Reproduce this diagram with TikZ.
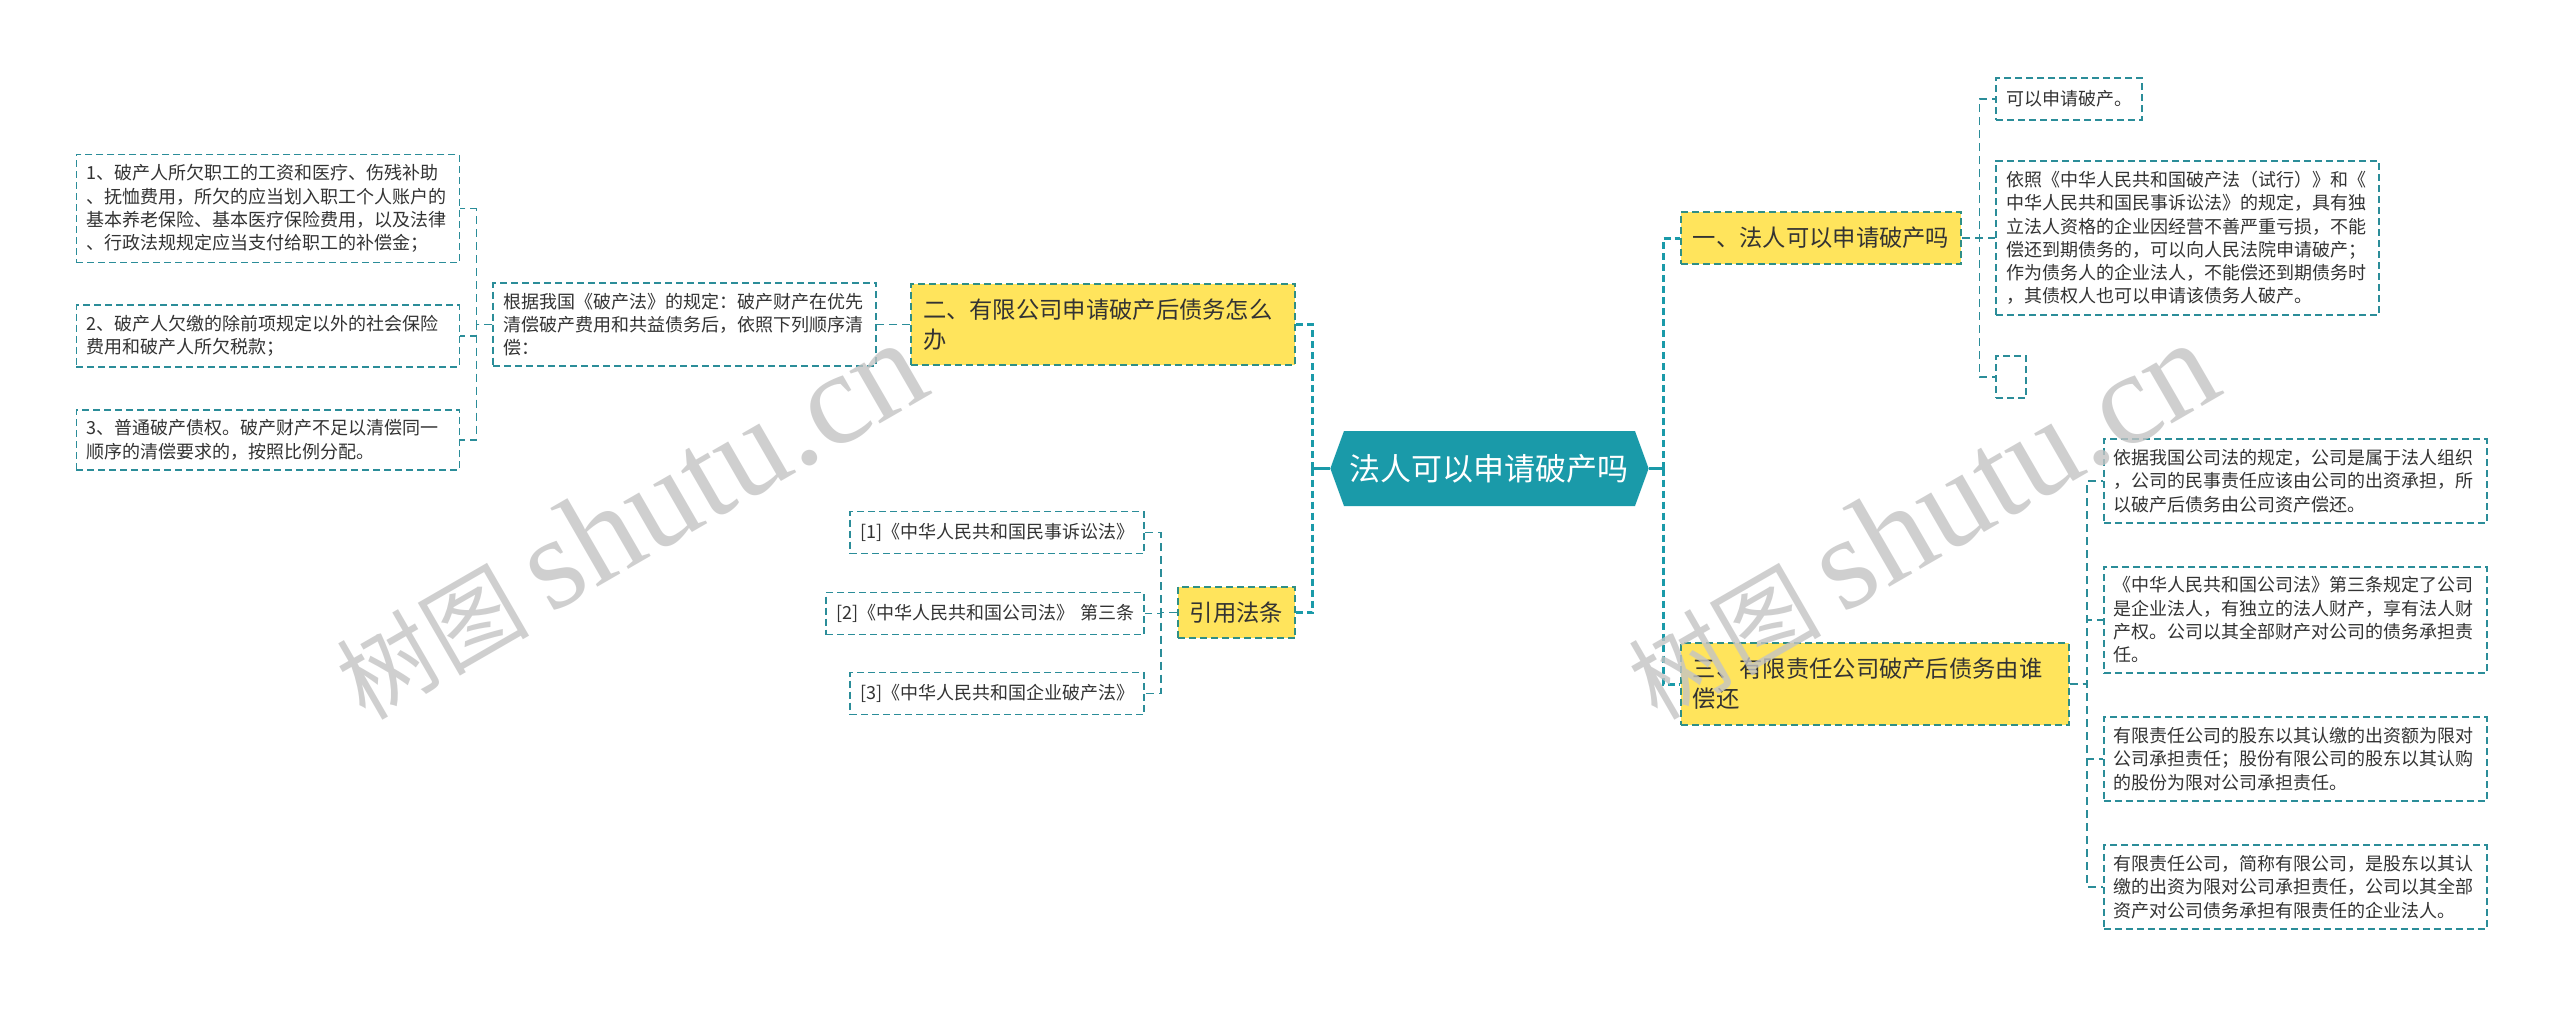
\documentclass[tikz,border=0pt]{standalone}
\usepackage{fontspec}
\setmainfont{Noto Sans CJK SC}
\newfontfamily\wmlatin{Liberation Serif}
\usetikzlibrary{positioning, shapes.symbols}

\definecolor{hubteal}{HTML}{1A9AA9}
\definecolor{linkteal}{HTML}{2B8D99}
\definecolor{boxteal}{HTML}{2F8F86}
\definecolor{topicyellow}{HTML}{FFE45C}
\definecolor{inkgray}{HTML}{333333}
\definecolor{markgray}{HTML}{C4C4C4}

\begin{document}
\begin{tikzpicture}[
    hub/.style={signal, signal to=west and east, signal pointer angle=140,
        fill=hubteal, text=white, minimum width=157.5pt, minimum height=37.5pt,
        inner xsep=3pt, font=\fontsize{15.5pt}{18pt}\selectfont},
    topic/.style={rectangle, draw=boxteal, line width=0.9pt,
        dash pattern=on 3.5pt off 2pt, fill=topicyellow, text=inkgray,
        align=left, inner xsep=6pt, inner ysep=7.5pt,
        font=\fontsize{11.65pt}{15pt}\selectfont},
    leaf/.style={rectangle, draw=linkteal, line width=0.9pt,
        dash pattern=on 3.5pt off 2pt, text=inkgray, align=left,
        inner xsep=5pt, inner ysep=5pt, minimum height=21pt, text width=181.5pt,
        font=\fontsize{9pt}{11.65pt}\selectfont},
    trunk/.style={draw=hubteal, line width=1.5pt},
    link/.style={draw=linkteal, line width=0.65pt, dash pattern=on 4pt off 2.5pt},
    watermark/.style={text=markgray, opacity=0.8, rotate=30}
]
\path[use as bounding box, fill=white] (-744.75pt,234.25pt) rectangle (535.25pt,-270.25pt);

% Center topic
\node[hub] (root) {法人可以申请破产吗};

% Left branches
\node[topic, text width=180pt, left=17pt of root.west, yshift=72pt] (sec2) {二、有限公司申请破产后债务怎么\\办};
\node[topic, left=17pt of root.west, yshift=-72pt] (cite) {引用法条};

% Order of repayment
\node[leaf, left=16.5pt of sec2.west] (note2) {根据我国《破产法》的规定：破产财产在优先\\清偿破产费用和共益债务后，依照下列顺序清\\偿：};
\node[leaf, left=16pt of note2.west, yshift=58pt] (claim1) {1、破产人所欠职工的工资和医疗、伤残补助\\、抚恤费用，所欠的应当划入职工个人账户的\\基本养老保险、基本医疗保险费用，以及法律\\、行政法规规定应当支付给职工的补偿金；};
\node[leaf, left=16pt of note2.west, yshift=-5.75pt] (claim2) {2、破产人欠缴的除前项规定以外的社会保险\\费用和破产人所欠税款；};
\node[leaf, left=16pt of note2.west, yshift=-57.75pt] (claim3) {3、普通破产债权。破产财产不足以清偿同一\\顺序的清偿要求的，按照比例分配。};

% Cited laws
\node[leaf, text width=137pt, left=16pt of cite.west, yshift=40pt] (law1) {[1]《中华人民共和国民事诉讼法》};
\node[leaf, text width=149pt, left=16pt of cite.west, yshift=-0.5pt] (law2) {[2]《中华人民共和国公司法》~第三条};
\node[leaf, text width=137pt, left=16pt of cite.west, yshift=-40.5pt] (law3) {[3]《中华人民共和国企业破产法》};

% Right branches
\node[topic, right=15.5pt of root.east, yshift=115.25pt] (sec1) {一、法人可以申请破产吗};
\node[topic, text width=182pt, right=15.5pt of root.east, yshift=-107.75pt] (sec3) {三、有限责任公司破产后债务由谁\\偿还};

% Answers to section one
\node[leaf, text width=63pt, right=16.5pt of sec1.east, yshift=69.5pt] (ans1) {可以申请破产。};
\node[leaf, right=16.5pt of sec1.east] (ans2) {依照《中华人民共和国破产法（试行）》和《\\中华人民共和国民事诉讼法》的规定，具有独\\立法人资格的企业因经营不善严重亏损，不能\\偿还到期债务的，可以向人民法院申请破产；\\作为债务人的企业法人，不能偿还到期债务时\\，其债权人也可以申请该债务人破产。};
\node[leaf, text width=5pt, right=16.5pt of sec1.east, yshift=-69.5pt] (ans3) {};

% Answers to section three
\node[leaf, right=16.5pt of sec3.east, yshift=101.5pt] (rule1) {依据我国公司法的规定，公司是属于法人组织\\，公司的民事责任应该由公司的出资承担，所\\以破产后债务由公司资产偿还。};
\node[leaf, right=16.5pt of sec3.east, yshift=32pt] (rule2) {《中华人民共和国公司法》第三条规定了公司\\是企业法人，有独立的法人财产，享有法人财\\产权。公司以其全部财产对公司的债务承担责\\任。};
\node[leaf, right=16.5pt of sec3.east, yshift=-37.5pt] (rule3) {有限责任公司的股东以其认缴的出资额为限对\\公司承担责任；股份有限公司的股东以其认购\\的股份为限对公司承担责任。};
\node[leaf, right=16.5pt of sec3.east, yshift=-101.5pt] (rule4) {有限责任公司，简称有限公司，是股东以其认\\缴的出资为限对公司承担责任，公司以其全部\\资产对公司债务承担有限责任的企业法人。};

% Edges from the center
\draw[trunk] (root.west) -- ++(-8.5pt,0) coordinate (lbus);
\draw[trunk] (root.east) -- ++(7pt,0) coordinate (rbus);
\draw[trunk, dash pattern=on 3.5pt off 2pt] (lbus) |- (sec2.east);
\draw[trunk, dash pattern=on 3.5pt off 2pt] (lbus) |- (cite.east);
\draw[trunk, dash pattern=on 3.5pt off 2pt] (rbus) |- (sec1.west);
\draw[trunk, dash pattern=on 3.5pt off 2pt] (rbus) |- (sec3.west);

% Edges to the leaves
\draw[link] (sec2.west) -- (note2.east);
\draw[link] (note2.west) -- ++(-8pt,0) |- (claim1.east);
\draw[link] (note2.west) -- ++(-8pt,0) |- (claim2.east);
\draw[link] (note2.west) -- ++(-8pt,0) |- (claim3.east);
\draw[link] (cite.west) -- ++(-8pt,0) |- (law1.east);
\draw[link] (cite.west) -- ++(-8pt,0) |- (law2.east);
\draw[link] (cite.west) -- ++(-8pt,0) |- (law3.east);
\draw[link] (sec1.east) -- ++(8.5pt,0) |- (ans1.west);
\draw[link] (sec1.east) -- ++(8.5pt,0) |- (ans2.west);
\draw[link] (sec1.east) -- ++(8.5pt,0) |- (ans3.west);
\draw[link] (sec3.east) -- ++(8.5pt,0) |- (rule1.west);
\draw[link] (sec3.east) -- ++(8.5pt,0) |- (rule2.west);
\draw[link] (sec3.east) -- ++(8.5pt,0) |- (rule3.west);
\draw[link] (sec3.east) -- ++(8.5pt,0) |- (rule4.west);

% Watermarks
\node[watermark] (wm1) at (-430pt,-26pt) {\fontsize{48pt}{48pt}\selectfont 树图 \wmlatin\fontsize{66pt}{66pt}\selectfont shutu.cn};
\node[watermark] (wm2) at (216pt,-26pt) {\fontsize{48pt}{48pt}\selectfont 树图 \wmlatin\fontsize{66pt}{66pt}\selectfont shutu.cn};

\end{tikzpicture}
\end{document}
